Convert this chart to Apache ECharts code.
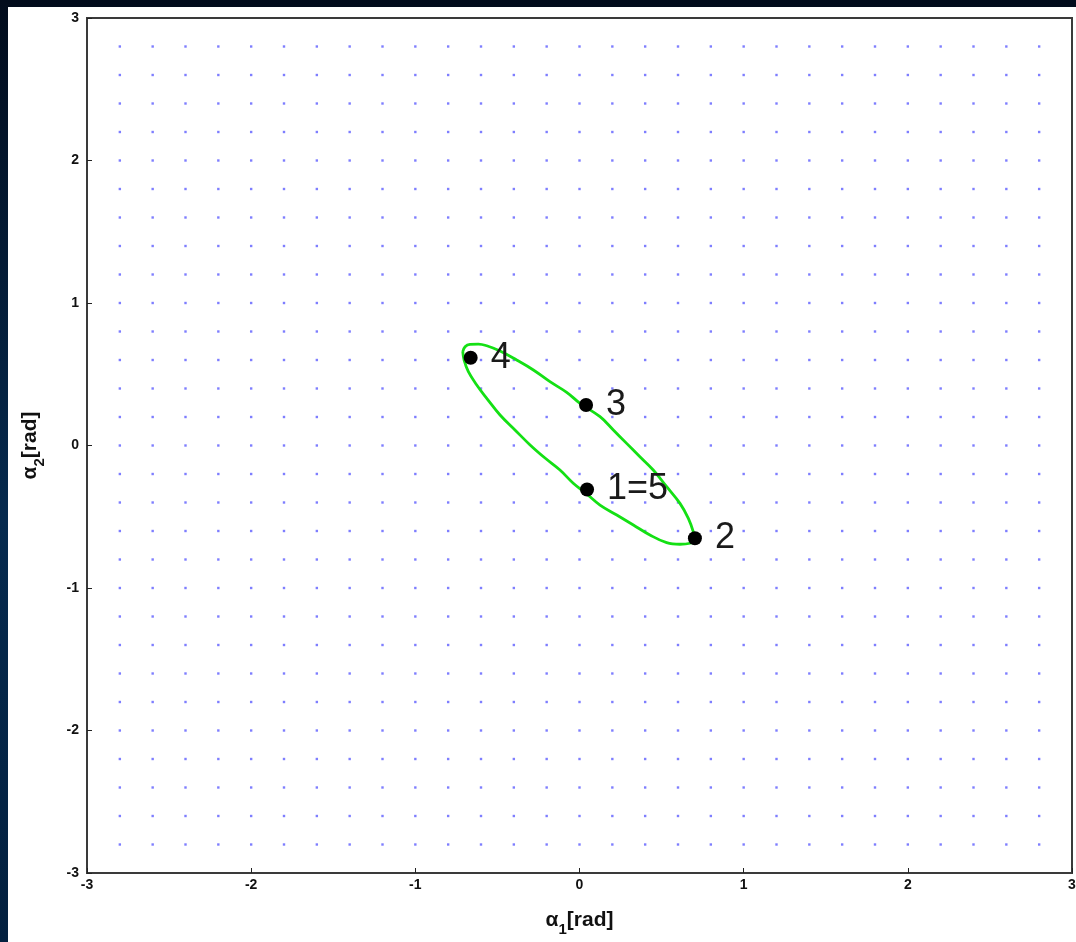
<!DOCTYPE html>
<html>
<head>
<meta charset="utf-8">
<script src="https://cdn.jsdelivr.net/npm/echarts@6/dist/echarts.min.js"></script>
<style>
html,body{margin:0;padding:0;width:1076px;height:942px;overflow:hidden;
background:linear-gradient(180deg,#020c1c 0%,#062a4e 55%,#03203f 100%);}
#chart{position:absolute;left:8px;top:7px;width:1068px;height:935px;background:#fff;}
</style>
</head>
<body>
<div id="chart"></div>
<script>
// axis ticks
const axisTicks = [-3, -2, -1, 0, 1, 2, 3];
// background dot-grid positions (both axes)
const dotSteps = [-2.8,-2.6,-2.4,-2.2,-2.0,-1.8,-1.6,-1.4,-1.2,-1.0,-0.8,-0.6,-0.4,-0.2,0,0.2,0.4,0.6,0.8,1.0,1.2,1.4,1.6,1.8,2.0,2.2,2.4,2.6,2.8];
// green closed trajectory
const ellipseX = [-0.711,-0.697,-0.667,-0.616,-0.565,-0.484,-0.383,-0.281,-0.180,-0.078,0.003,0.125,0.206,0.287,0.368,0.449,0.531,0.612,0.663,0.693,0.703,0.673,0.612,0.531,0.429,0.328,0.227,0.125,0.044,-0.038,-0.119,-0.210,-0.301,-0.393,-0.484,-0.565,-0.626,-0.677,-0.703,-0.711];
const ellipseY = [0.658,0.693,0.710,0.712,0.700,0.663,0.600,0.530,0.448,0.373,0.296,0.202,0.109,0.015,-0.079,-0.172,-0.289,-0.406,-0.511,-0.605,-0.663,-0.686,-0.693,-0.682,-0.628,-0.558,-0.488,-0.418,-0.340,-0.265,-0.172,-0.088,0.004,0.109,0.214,0.331,0.425,0.518,0.600,0.658];
// labelled points
const pointLabels = ['4', '3', '1=5', '2'];
const pointX = [-0.663, 0.040, 0.046, 0.703];
const pointY = [0.616, 0.284, -0.309, -0.651];

const dots = [];
dotSteps.forEach(x => dotSteps.forEach(y => dots.push([x, y])));
const ellipse = ellipseX.map((x, i) => [x, ellipseY[i]]);
const points = pointX.map((x, i) => ({ value: [x, pointY[i]], name: pointLabels[i] }));

const tickFont = { color: '#111', fontFamily: 'Liberation Sans, Arial', fontWeight: 'bold', fontSize: 14 };
const nameRich = {
  a: { fontFamily: 'Liberation Sans, Arial', fontWeight: 'bold', fontSize: 21, color: '#111', lineHeight: 34 },
  s: { fontFamily: 'Liberation Sans, Arial', fontWeight: 'bold', fontSize: 15, color: '#111', lineHeight: 14, verticalAlign: 'bottom' }
};

const chart = echarts.init(document.getElementById('chart'), null, { renderer: 'canvas' });
chart.setOption({
  animation: false,
  backgroundColor: '#fff',
  grid: { left: 79, top: 11, right: 4, bottom: 69, outerBoundsMode: 'none', containLabel: false,
          show: true, borderColor: '#3a3a3a', borderWidth: 2, backgroundColor: '#fff' },
  xAxis: {
    type: 'value', min: -3, max: 3, interval: 1,
    axisLine: { show: true, onZero: false, lineStyle: { color: '#3a3a3a', width: 2 } },
    axisTick: { show: true, inside: true, length: 5, lineStyle: { color: '#222' } },
    splitLine: { show: false },
    axisLabel: Object.assign({ margin: 5, formatter: v => String(v) }, tickFont),
    name: '{a|α}{s|1}{a|[rad]}', nameLocation: 'middle', nameGap: 30,
    nameTextStyle: { rich: nameRich }
  },
  yAxis: {
    type: 'value', min: -3, max: 3, interval: 1,
    axisLine: { show: true, onZero: false, lineStyle: { color: '#3a3a3a', width: 2 } },
    axisTick: { show: true, inside: true, length: 5, lineStyle: { color: '#222' } },
    splitLine: { show: false },
    axisLabel: Object.assign({ margin: 8, formatter: v => String(v) }, tickFont),
    name: '{a|α}{s|2}{a|[rad]}', nameLocation: 'middle', nameGap: 40, nameRotate: 90,
    nameTextStyle: { rich: nameRich }
  },
  series: [
    {
      type: 'scatter', data: dots, symbol: 'rect', symbolSize: 2.4, silent: true,
      itemStyle: { color: '#7e7eff', opacity: 1 }, z: 1
    },
    {
      type: 'line', data: ellipse, smooth: 0.4, showSymbol: false, silent: true,
      lineStyle: { color: '#14e014', width: 2.8 }, z: 2
    },
    {
      type: 'scatter', data: points, symbol: 'circle', symbolSize: 14, silent: true,
      itemStyle: { color: '#000', opacity: 1 }, z: 3,
      label: {
        show: true, position: 'right', distance: 13, formatter: p => p.name,
        fontFamily: 'Liberation Sans, Arial', fontSize: 36, color: '#1a1a1a'
      }
    }
  ]
});
</script>
</body>
</html>
